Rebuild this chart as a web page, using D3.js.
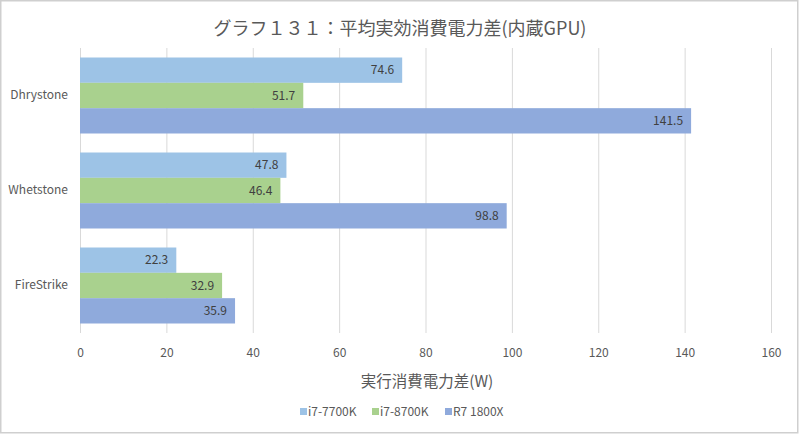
<!DOCTYPE html>
<html><head><meta charset="utf-8">
<script src="https://cdn.jsdelivr.net/npm/d3@7/dist/d3.min.js"></script>
<style>body{margin:0;background:#fff}svg{display:block}</style>
</head><body>
<svg id="c" width="800" height="434"></svg>
<script>
const categories = ["Dhrystone", "Whetstone", "FireStrike"];
const seriesNames = ["i7-7700K", "i7-8700K", "R7 1800X"];
const i7_7700K = [74.6, 47.8, 22.3];
const i7_8700K = [51.7, 46.4, 32.9];
const r7_1800X = [141.5, 98.8, 35.9];
const xTicks = [0, 20, 40, 60, 80, 100, 120, 140, 160];
const colors = ["#9DC3E6", "#A9D18E", "#8FAADC"];
const seriesValues = [i7_7700K, i7_8700K, r7_1800X];

const svg = d3.select("#c");
const font = "'Noto Sans CJK JP', 'Noto Sans', sans-serif";
svg.append("rect").attr("x",0.75).attr("y",0.75).attr("width",797).attr("height",432)
  .attr("fill","#fff").attr("stroke","#cfcfcf").attr("stroke-width",1.5);

const x = d3.scaleLinear().domain([0,160]).range([80,771]);
const y = d3.scaleBand().domain(categories).range([48,333]).paddingInner(0.2).paddingOuter(0.1);
const ys = d3.scaleBand().domain(seriesNames).range([0, y.bandwidth()]);

// gridlines
svg.append("g").selectAll("line").data(xTicks).join("line")
  .attr("x1",d=>x(d)+0.5).attr("x2",d=>x(d)+0.5).attr("y1",48).attr("y2",333)
  .attr("stroke","#d9d9d9").attr("stroke-width",1);

// x axis labels
const xa = svg.append("g").attr("transform","translate(0,333)")
  .call(d3.axisBottom(x).tickValues(xTicks).tickSize(0).tickPadding(15).tickFormat(d3.format("d")));
xa.select(".domain").remove();
xa.selectAll("text").attr("fill","#595959").style("font-family",font).style("font-size","12px");

// y axis labels
const ya = svg.append("g").attr("transform","translate(80,0)")
  .call(d3.axisLeft(y).tickSize(0).tickPadding(12));
ya.select(".domain").remove();
ya.selectAll("text").attr("fill","#595959").style("font-family",font).style("font-size","12px");

// bars
categories.forEach((c,ci)=>{
  seriesNames.forEach((s,si)=>{
    const v = seriesValues[si][ci];
    const yy = y(c)+ys(s);
    svg.append("rect").attr("x",x(0)).attr("y",yy).attr("width",x(v)-x(0)).attr("height",ys.bandwidth())
      .attr("fill",colors[si]);
    svg.append("text").attr("x",x(v)-8).attr("y",yy+ys.bandwidth()/2).attr("dy","0.36em")
      .attr("text-anchor","end").attr("fill","#404040")
      .style("font-family",font).style("font-size","12px").text(d3.format(".1f")(v));
  });
});

// title
svg.append("text").attr("x",400).attr("y",35).attr("text-anchor","middle").attr("fill","#595959")
  .style("font-family",font).style("font-size","18px").text("グラフ１３１：平均実効消費電力差(内蔵GPU)");

// axis title
svg.append("text").attr("x",427).attr("y",387).attr("text-anchor","middle").attr("fill","#595959")
  .style("font-family",font).style("font-size","15.5px").text("実行消費電力差(W)");

// legend
const legX = [300, 372, 445];
seriesNames.forEach((s,i)=>{
  svg.append("rect").attr("x",legX[i]).attr("y",408).attr("width",7).attr("height",7).attr("fill",colors[i]);
  svg.append("text").attr("x",legX[i]+8).attr("y",412).attr("dy","0.36em").attr("fill","#595959")
    .style("font-family",font).style("font-size","12px").text(s);
});
</script>
</body></html>
